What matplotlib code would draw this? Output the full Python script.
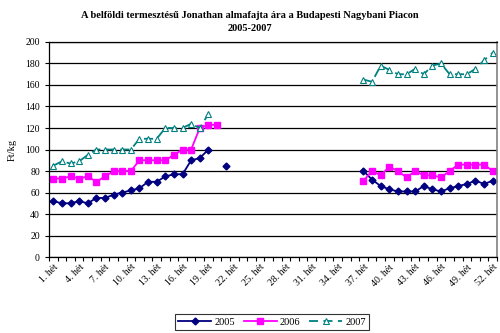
import numpy as np
import matplotlib
matplotlib.use("Agg")
from matplotlib import pyplot as plt

nan = np.nan
n_weeks = 52
weeks = ["{}. hét".format(i) for i in range(1, n_weeks + 1)]

# heti árak (Ft/kg): tavaszi szakasz az 1. héttől, őszi szakasz a 37. héttől
spring_2005 = [52, 50, 50, 52, 50, 55, 55, 58, 60, 62, 64, 70, 70, 75, 77, 77, 90, 92, 100, nan, 85]
spring_2006 = [73, 73, 75, 73, 75, 70, 75, 80, 80, 80, 90, 90, 90, 90, 95, 100, 100, 120, 123, 123]
spring_2007 = [85, 89, 87, 89, 95, 100, 100, 100, 100, 100, 110, 110, 110, 120, 120, 120, 124, 120, 133]

autumn_2005 = [80, 72, 66, 63, 61, 61, 61, 66, 63, 61, 64, 66, 68, 71, 68, 71]
autumn_2006 = [71, 80, 76, 84, 80, 74, 80, 76, 76, 74, 80, 86, 86, 86, 86, 80]
autumn_2007 = [165, 163, 178, 174, 170, 170, 175, 170, 178, 180, 170, 170, 170, 175, 183, 190]
autumn_start = 37


def full_year(spring, autumn):
    gap = autumn_start - 1 - len(spring)
    return spring + [nan] * gap + autumn


price_2005 = full_year(spring_2005, autumn_2005)
price_2006 = full_year(spring_2006, autumn_2006)
price_2007 = full_year(spring_2007, autumn_2007)

plt.rcParams['font.family'] = ['Liberation Serif', 'DejaVu Serif']

fig = plt.figure(figsize=(5, 3.33), dpi=100)
ax = fig.add_axes([0.098, 0.228, 0.896, 0.646])

x = np.arange(n_weeks)
ax.plot(x, price_2005, color='#000080', lw=1.3, marker='D', ms=3.5, label='2005')
ax.plot(x, price_2006, color='#FF00FF', lw=1.3, marker='s', ms=3.8, label='2006')
ax.plot(x, price_2007, color='#008080', lw=1.3, ls=(0, (5, 3)), marker='^', ms=4.5,
        mfc='white', mec='#008080', mew=0.8, label='2007')

ax.set_xlim(-0.5, n_weeks - 0.5)
ax.set_ylim(0, 200)
ax.set_yticks(range(0, 201, 20))
ax.yaxis.grid(True, color='black', lw=0.9)
ax.set_axisbelow(True)

ax.set_xticks(x[::3])
ax.set_xticklabels(weeks[::3], rotation=45, ha='right', rotation_mode='anchor')
ax.set_xticks(np.arange(-0.5, n_weeks, 1), minor=True)
ax.tick_params(axis='x', which='major', length=0, labelsize=7, pad=4)
ax.tick_params(axis='x', which='minor', length=3, direction='out', width=0.8)
ax.tick_params(axis='y', length=3, labelsize=7, width=0.8)

for s in ['left', 'bottom', 'top']:
    ax.spines[s].set_color('black')
    ax.spines[s].set_linewidth(0.9)
ax.spines['right'].set_color('#808080')
ax.spines['right'].set_linewidth(1.2)

ax.set_ylabel("Ft/kg", fontsize=7.5, labelpad=6)

fig.text(0.5, 0.968, "A belföldi termesztésű Jonathan almafajta ára a Budapesti Nagybani Piacon\n2005-2007",
         ha='center', va='top', fontsize=7.5, fontweight='bold', linespacing=1.6)

leg = fig.legend(loc='center', bbox_to_anchor=(0.544, 0.033), ncol=3, fontsize=7.5,
                 frameon=True, fancybox=False, edgecolor='black', handlelength=3.2,
                 columnspacing=0.8, handletextpad=0.3, borderpad=0.3)
leg.get_frame().set_linewidth(0.8)

plt.savefig('out.png', dpi=100)
